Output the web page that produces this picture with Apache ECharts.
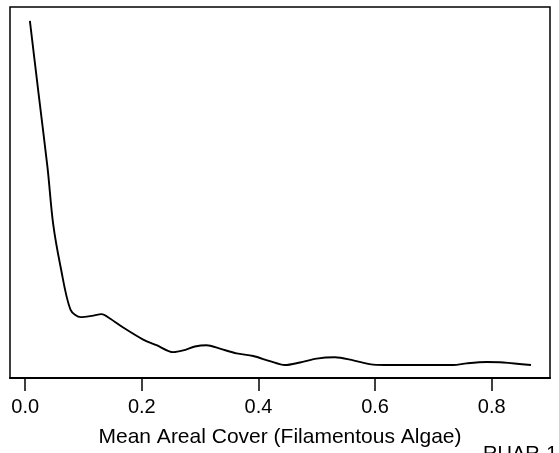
<!DOCTYPE html>
<html>
<head>
<meta charset="utf-8">
<script src="https://cdn.jsdelivr.net/npm/echarts@6/dist/echarts.min.js"></script>
<style>html,body{margin:0;padding:0;background:#fff;}#c{width:559px;height:453px;}</style>
</head>
<body>
<div id="c"></div>
<script>
// Mean areal cover (x) and estimated density (y)
const cover = [0.0081, 0.0230, 0.0384, 0.0480, 0.0607, 0.0779, 0.0955, 0.1144, 0.1310, 0.1453,
  0.1681, 0.2024, 0.2254, 0.2539, 0.2710, 0.2911, 0.3111, 0.3340, 0.3626, 0.3911,
  0.4197, 0.4454, 0.4712, 0.4998, 0.5312, 0.5626, 0.5969, 0.6255, 0.6770, 0.7341,
  0.7571, 0.7914, 0.8199, 0.8674];
const density = [7.98, 6.29, 4.57, 3.27, 2.28, 1.28, 1.11, 1.14, 1.18, 1.08,
  0.87, 0.59, 0.46, 0.30, 0.34, 0.43, 0.46, 0.38, 0.27, 0.21,
  0.09, 0.00, 0.06, 0.15, 0.18, 0.11, 0.01, 0.00, 0.00, 0.00,
  0.04, 0.07, 0.06, 0.00];
const xTicks = [0.0, 0.2, 0.4, 0.6, 0.8];
const xTitle = 'Mean Areal Cover (Filamentous Algae)';
const cornerNote = 'RUAR-1';

const chart = echarts.init(document.getElementById('c'), null, {renderer: 'canvas'});
const font = 'Liberation Sans, Arial, Helvetica, sans-serif';
chart.setOption({
  animation: false,
  backgroundColor: '#ffffff',
  grid: {left: 10, right: 9, top: 7, bottom: 70, show: true, borderColor: '#000', borderWidth: 1.5, backgroundColor: 'transparent'},
  xAxis: {
    type: 'value', min: -0.026, max: 0.900,
    splitLine: {show: false},
    axisLine: {show: true, onZero: false, lineStyle: {color: '#000', width: 2}},
    axisTick: {show: true, length: 13, lineStyle: {color: '#000', width: 1.5}, customValues: xTicks},
    axisLabel: {show: true, margin: 19, color: '#000', fontSize: 20, fontFamily: font,
      customValues: xTicks, formatter: v => v.toFixed(1)},
    name: xTitle, nameLocation: 'middle', nameGap: 49,
    nameTextStyle: {color: '#000', fontSize: 21, fontFamily: font}
  },
  yAxis: {
    type: 'value', min: -0.3, max: 8.3,
    show: false, splitLine: {show: false}
  },
  graphic: [{
    type: 'text', left: 483, top: 444,
    style: {text: cornerNote, fontSize: 20, fontFamily: font, fill: '#000'}
  }],
  series: [{
    type: 'line',
    data: cover.map((x, i) => [x, density[i]]),
    showSymbol: false, smooth: 0.3,
    lineStyle: {color: '#000', width: 1.9},
    clip: false
  }]
});
</script>
</body>
</html>
